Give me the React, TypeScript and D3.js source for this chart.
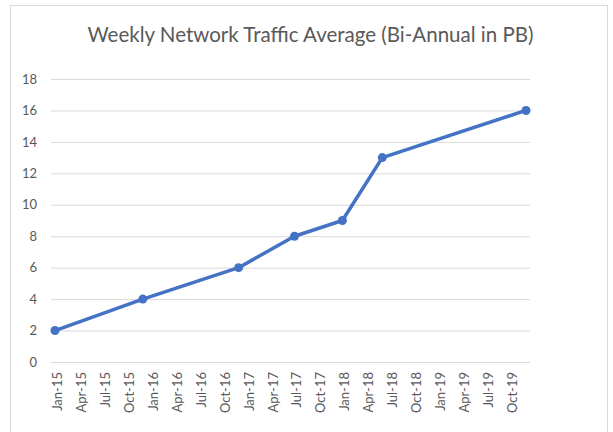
import React, { useEffect, useRef } from "react";
import * as d3 from "d3";

const title = "Weekly Network Traffic Average (Bi-Annual in PB)";
const pointDates = ["2015-01", "2015-12", "2016-12", "2017-07", "2018-01", "2018-06", "2019-12"];
const pointValues = [2, 4, 6, 8, 9, 13, 16];
const yTicks = [0, 2, 4, 6, 8, 10, 12, 14, 16, 18];

const W = 613;
const H = 432;

const monthIndex = (s: string) => {
  const [y, m] = s.split("-").map(Number);
  return (y - 2015) * 12 + (m - 1);
};

const App = () => {
  const ref = useRef<SVGSVGElement | null>(null);

  useEffect(() => {
    if (!ref.current) return;
    const svg = d3.select(ref.current);
    svg.selectAll("*").remove();

    const font = "Lato, 'Open Sans', sans-serif";
    const x = d3.scaleLinear().domain([-0.5, 59.5]).range([51, 530]);
    const y = d3.scaleLinear().domain([0, 18]).range([362, 79]);

    // chart frame
    svg
      .append("rect")
      .attr("x", 10.5)
      .attr("y", 5.5)
      .attr("width", 597)
      .attr("height", 440)
      .attr("fill", "#fff")
      .attr("stroke", "#d9d9d9");

    svg
      .append("text")
      .attr("x", 310.5)
      .attr("y", 42)
      .attr("text-anchor", "middle")
      .style("font-family", font)
      .style("font-size", "20.5px")
      .style("fill", "#595959")
      .text(title);

    // grid
    const yAxis = svg
      .append("g")
      .attr("transform", `translate(51,0)`)
      .call(
        d3
          .axisLeft(y)
          .tickValues(yTicks)
          .tickSize(-479)
          .tickPadding(14)
      );
    yAxis.select(".domain").remove();
    yAxis.selectAll("line").attr("stroke", "#d9d9d9");
    yAxis
      .selectAll("text")
      .style("font-family", font)
      .style("font-size", "13px")
      .style("fill", "#595959");

    // x axis
    const tickIdx = d3.range(0, 60, 3);
    const fmt = d3.utcFormat("%b-%y");
    const xAxis = svg
      .append("g")
      .attr("transform", `translate(0,362)`)
      .call(
        d3
          .axisBottom(x)
          .tickValues(tickIdx)
          .tickSize(0)
          .tickFormat(d => fmt(new Date(Date.UTC(2015, +d, 1))))
      );
    xAxis.select(".domain").remove();
    xAxis
      .selectAll("text")
      .attr("transform", "rotate(-90)")
      .attr("x", -10)
      .attr("y", 0)
      .attr("dy", "0.5em")
      .attr("text-anchor", "end")
      .style("font-family", font)
      .style("font-size", "13px")
      .style("fill", "#595959");

    const pts = pointDates.map((d, i) => ({ m: monthIndex(d), v: pointValues[i] }));

    const line = d3
      .line<{ m: number; v: number }>()
      .x(d => x(d.m))
      .y(d => y(d.v));

    svg
      .append("path")
      .datum(pts)
      .attr("fill", "none")
      .attr("stroke", "#4472C4")
      .attr("stroke-width", 3.5)
      .attr("stroke-linejoin", "round")
      .attr("stroke-linecap", "round")
      .attr("d", line);

    svg
      .selectAll(".pt")
      .data(pts)
      .join("circle")
      .attr("class", "pt")
      .attr("cx", d => x(d.m))
      .attr("cy", d => y(d.v))
      .attr("r", 4.5)
      .attr("fill", "#4472C4");
  }, []);

  return (
    <svg
      ref={ref}
      width={W}
      height={H}
      style={{ position: "absolute", left: 0, top: 0, background: "#fff" }}
    />
  );
};

export default App;
